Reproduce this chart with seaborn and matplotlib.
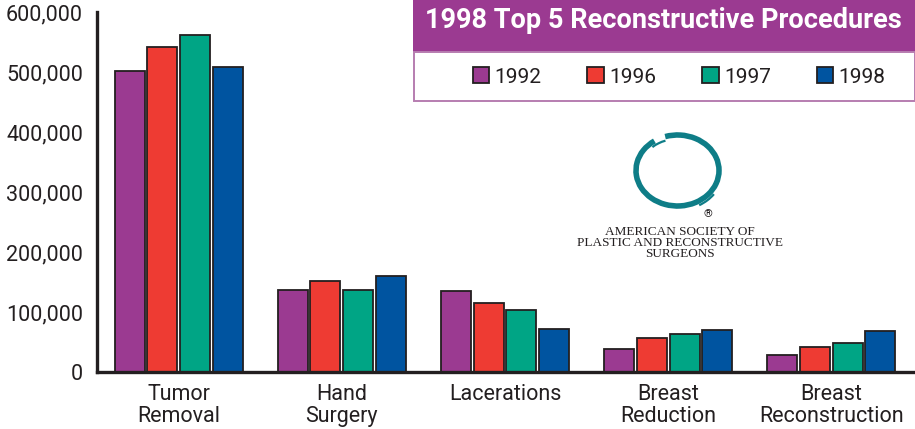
import matplotlib
matplotlib.use("Agg")
import matplotlib.pyplot as plt
import matplotlib.patches as mpatches
from matplotlib.ticker import FuncFormatter
import pandas as pd
import seaborn as sns

# Data
procedures = ["Tumor\nRemoval", "Hand\nSurgery", "Lacerations", "Breast\nReduction", "Breast\nReconstruction"]
years = ["1992", "1996", "1997", "1998"]
counts_1992 = [502000, 137500, 134500, 39000, 29000]
counts_1996 = [541000, 152500, 115000, 57000, 41500]
counts_1997 = [562000, 136000, 103000, 64000, 49000]
counts_1998 = [509000, 160500, 72000, 69500, 68500]
year_colors = ["#9B3A91", "#EE3B33", "#00A585", "#0054A0"]

series = {"1992": counts_1992, "1996": counts_1996, "1997": counts_1997, "1998": counts_1998}
rows = []
for yr, vals in series.items():
    for proc, v in zip(procedures, vals):
        rows.append({"procedure": proc, "year": yr, "count": v})
df = pd.DataFrame(rows)

sns.set_style("white")
plt.rcParams['font.family'] = ['Roboto', 'DejaVu Sans']
text_color = "#231F20"
purple = "#9B3A91"

fig = plt.figure(figsize=(9.15, 4.29), dpi=100)

# overlay in pixel units for the title box, legend box and logo
ov = fig.add_axes([0, 0, 1, 1], zorder=0)
ov.set_xlim(0, 915)
ov.set_ylim(429, 0)
ov.axis('off')

ax = fig.add_axes([97 / 915, 1 - 372 / 429, (913 - 97) / 915, 360 / 429], zorder=1)
ax.patch.set_alpha(0)

sns.barplot(data=df, x="procedure", y="count", hue="year", order=procedures, hue_order=years,
            palette=year_colors, saturation=1, width=0.8, gap=0.08, errorbar=None,
            edgecolor=text_color, linewidth=1.3, ax=ax)

ax.set_xlim(-0.5, 4.5)
ax.set_ylim(0, 600000)
ax.set_xlabel("")
ax.set_ylabel("")
ax.spines[['top', 'right']].set_visible(False)
for s in ['left', 'bottom']:
    ax.spines[s].set_linewidth(2.4)
    ax.spines[s].set_color(text_color)

ax.set_yticks(range(0, 600001, 100000))
ax.yaxis.set_major_formatter(FuncFormatter(lambda v, p: f"{int(v):,}"))
ax.tick_params(axis='y', direction='in', length=14, width=2.2, labelsize=15.5, pad=10,
               color=text_color, labelcolor=text_color)
ax.tick_params(axis='x', which='major', length=0, labelsize=15.5, pad=9, labelcolor=text_color)
ax.set_xticks([0.5, 1.5, 2.5, 3.5, 4.5], minor=True)
ax.tick_params(axis='x', which='minor', direction='in', length=7, width=2, color=text_color)
for lab in ax.get_xticklabels():
    lab.set_linespacing(1.02)
    lab.set_verticalalignment('top')

sns.move_legend(ax, "center", bbox_to_anchor=(679 / 915, 1 - 77 / 429), bbox_transform=fig.transFigure,
                ncol=4, frameon=False, title=None, fontsize=15, handlelength=0.8, handleheight=0.8,
                handletextpad=0.25, columnspacing=2.2)
for t in ax.get_legend().get_texts():
    t.set_color(text_color)

# title band and legend frame
ov.add_patch(mpatches.Rectangle((413, 0), 502, 52, facecolor=purple, edgecolor='none'))
ov.add_patch(mpatches.Rectangle((413.5, 52), 501, 49, facecolor='white', edgecolor="#B77DB0", lw=1.4))
ov.text(425, 27.5, "1998 Top 5 Reconstructive Procedures", color='white', fontsize=19.5,
        fontweight='bold', va='baseline', ha='left')

# society logo: an almost closed ring with small overlapping tails
teal = "#0E7D87"
ov.add_patch(mpatches.Arc((677.5, 170.5), 83, 71, theta1=-110, theta2=232, lw=4, color=teal))
ov.add_patch(mpatches.Arc((677.5, 170.5), 75, 63, theta1=-137, theta2=-112, lw=1.6, color=teal))
ov.add_patch(mpatches.Arc((677.5, 170.5), 91, 79, theta1=33, theta2=58, lw=1.6, color=teal))
ov.text(708, 214, "®", fontsize=8, color=text_color, ha='center', va='center')
ov.text(680, 243, "AMERICAN SOCIETY OF\nPLASTIC AND RECONSTRUCTIVE\nSURGEONS",
        family=['Liberation Serif', 'DejaVu Serif'], fontsize=9.5, color=text_color,
        ha='center', va='center', linespacing=0.92)

fig.savefig("out.png", dpi=100, facecolor='white')
